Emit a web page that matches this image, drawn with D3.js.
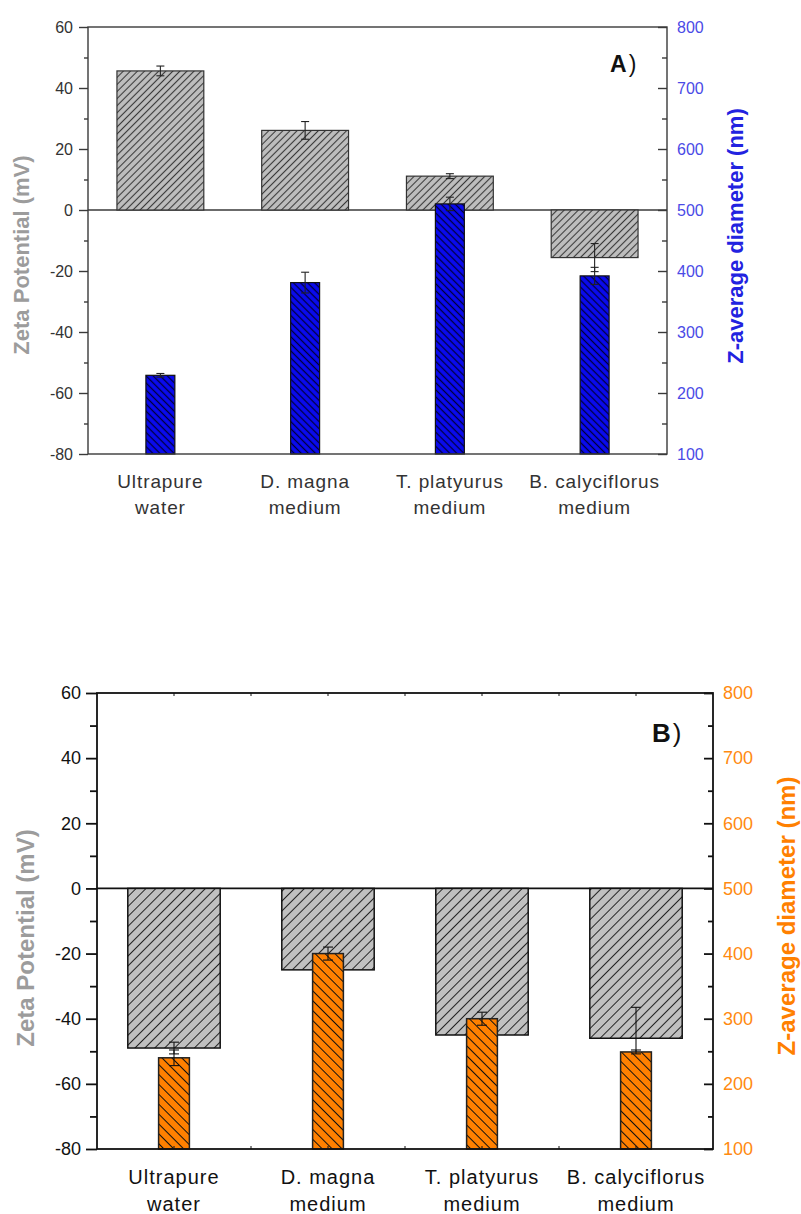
<!DOCTYPE html>
<html>
<head>
<meta charset="utf-8">
<script src="https://cdn.jsdelivr.net/npm/d3@7"></script>
<style>
  body { margin: 0; background: #fff; }
  svg { display: block; }
  text { font-family: "Liberation Sans", Arial, sans-serif; }
</style>
</head>
<body>
<div id="chart"></div>
<script>
// categories (two text lines each)
const categories = [
  ['Ultrapure', 'water'],
  ['D. magna', 'medium'],
  ['T. platyurus', 'medium'],
  ['B. calyciflorus', 'medium']
];

// panel A (blue)
const zetaA = [45.6, 26.1, 11.1, -15.6];
const zetaErrA = [1.6, 2.9, 0.8, 4.6];
const sizeA = [229, 381, 510, 392];
const sizeErrA = [3, 17, 11, 14];

// panel B (orange)
const zetaB = [-49, -25, -45, -46];
const zetaErrB = [1.8, 0, 0, 9.5];
const sizeB = [240, 400, 300, 249];
const sizeErrB = [12, 10, 10, 3];

// axis ticks
const zetaTicks = [-80, -60, -40, -20, 0, 20, 40, 60];
const zetaMinor = [-70, -50, -30, -10, 10, 30, 50];
const sizeTicks = [100, 200, 300, 400, 500, 600, 700, 800];
const sizeMinor = [150, 250, 350, 450, 550, 650, 750];

const svg = d3.select('#chart')
  .append('svg')
  .attr('width', 801)
  .attr('height', 1214);

const defs = svg.append('defs');

function hatch(id, bg, stroke, gap, angle, sw) {
  const p = defs.append('pattern')
    .attr('id', id)
    .attr('patternUnits', 'userSpaceOnUse')
    .attr('width', gap)
    .attr('height', gap)
    .attr('patternTransform', `rotate(${angle})`);
  p.append('rect').attr('width', gap).attr('height', gap).attr('fill', bg);
  p.append('line')
    .attr('x1', gap / 2).attr('y1', -1)
    .attr('x2', gap / 2).attr('y2', gap + 1)
    .attr('stroke', stroke)
    .attr('stroke-width', sw);
}

hatch('grayA', '#bebebe', '#3a3a3a', 5, 45, 1.1);
hatch('blueA', '#0a0af0', '#00003a', 5, -45, 1.3);
hatch('grayB', '#c0c0c0', '#111', 7, 45, 0.9);
hatch('orangeB', '#ff8000', '#111', 7, -45, 1);

function drawPanel(o) {
  const g = svg.append('g');
  const x = d3.scaleBand().domain(d3.range(categories.length)).range([o.left, o.right]);
  const yL = d3.scaleLinear().domain([-80, 60]).range([o.bottom, o.top]);
  const yR = d3.scaleLinear().domain([100, 800]).range([o.bottom, o.top]);
  const cx = i => x(i) + x.bandwidth() / 2;
  const gw = x.bandwidth() * 0.6;
  const cw = x.bandwidth() * 0.2;

  // zero line
  g.append('line')
    .attr('x1', o.left).attr('x2', o.right)
    .attr('y1', yL(0)).attr('y2', yL(0))
    .attr('stroke', o.axisColor).attr('stroke-width', o.axisWidth);

  // zeta bars
  g.selectAll('.zbar')
    .data(o.zeta)
    .enter()
    .append('rect')
    .attr('x', (d, i) => cx(i) - gw / 2)
    .attr('y', d => yL(Math.max(d, 0)))
    .attr('width', gw)
    .attr('height', d => Math.abs(yL(d) - yL(0)))
    .attr('fill', `url(#${o.grayId})`)
    .attr('stroke', o.barStroke)
    .attr('stroke-width', o.barStrokeW);

  function errBars(vals, errs, scale, cap) {
    vals.forEach((v, i) => {
      if (!errs[i]) return;
      const y1 = scale(v - errs[i]);
      const y2 = scale(v + errs[i]);
      const xx = cx(i);
      g.append('line').attr('x1', xx).attr('x2', xx).attr('y1', y1).attr('y2', y2)
        .attr('stroke', o.errColor).attr('stroke-width', 1.1);
      [y1, y2].forEach(yy => {
        g.append('line').attr('x1', xx - cap / 2).attr('x2', xx + cap / 2)
          .attr('y1', yy).attr('y2', yy)
          .attr('stroke', o.errColor).attr('stroke-width', 1.1);
      });
    });
  }
  errBars(o.zeta, o.zetaErr, yL, o.cap);

  // size bars
  g.selectAll('.sbar')
    .data(o.size)
    .enter()
    .append('rect')
    .attr('x', (d, i) => cx(i) - cw / 2)
    .attr('y', d => yR(d))
    .attr('width', cw)
    .attr('height', d => yR(100) - yR(d))
    .attr('fill', `url(#${o.colorId})`)
    .attr('stroke', o.colorStroke)
    .attr('stroke-width', o.barStrokeW);

  errBars(o.size, o.sizeErr, yR, o.cap);

  // frame
  g.append('rect')
    .attr('x', o.left).attr('y', o.top)
    .attr('width', o.right - o.left).attr('height', o.bottom - o.top)
    .attr('fill', 'none')
    .attr('stroke', o.axisColor).attr('stroke-width', o.axisWidth);

  // small category ticks on top / bottom (panel B)
  if (o.catTicks) {
    const pos = [];
    categories.forEach((c, i) => { pos.push(cx(i)); if (i > 0) pos.push(x(i)); });
    pos.forEach(p => {
      g.append('line').attr('x1', p).attr('x2', p).attr('y1', o.top).attr('y2', o.top + 3)
        .attr('stroke', o.axisColor).attr('stroke-width', 1);
      g.append('line').attr('x1', p).attr('x2', p).attr('y1', o.bottom).attr('y2', o.bottom - 3)
        .attr('stroke', o.axisColor).attr('stroke-width', 1);
    });
  }

  const plain = d => String(d);

  // left axis
  const la = g.append('g').attr('transform', `translate(${o.left},0)`)
    .call(d3.axisLeft(yL).tickValues(zetaTicks).tickFormat(plain)
      .tickSizeInner(o.majL).tickSizeOuter(0).tickPadding(o.padL));
  g.append('g').attr('transform', `translate(${o.left},0)`)
    .call(d3.axisLeft(yL).tickValues(zetaMinor).tickSize(o.minL).tickFormat(''));

  // right axis (ticks inward)
  const ra = g.append('g').attr('transform', `translate(${o.right},0)`)
    .call(d3.axisRight(yR).tickValues(sizeTicks).tickFormat(plain)
      .tickSizeInner(-o.majR).tickSizeOuter(0).tickPadding(o.padR));
  g.append('g').attr('transform', `translate(${o.right},0)`)
    .call(d3.axisRight(yR).tickValues(sizeMinor).tickSize(-o.minR).tickFormat(''));

  g.selectAll('.domain').remove();
  g.selectAll('.tick line').attr('stroke', o.axisColor).attr('stroke-width', o.axisWidth);
  la.selectAll('text').attr('font-size', o.tickFont).attr('fill', o.tickColor)
    .attr('font-family', '"Liberation Sans", Arial, sans-serif');
  ra.selectAll('text').attr('font-size', o.tickFont).attr('fill', o.rTickColor)
    .attr('font-family', '"Liberation Sans", Arial, sans-serif');

  // category labels
  categories.forEach((c, i) => {
    const t = g.append('text')
      .attr('text-anchor', 'middle')
      .attr('font-size', o.catFont)
      .attr('letter-spacing', o.catSpacing)
      .attr('fill', o.tickColor);
    c.forEach((line, k) => {
      t.append('tspan').attr('x', cx(i)).attr('y', o.catY + k * o.catGap).text(line);
    });
  });

  // axis titles
  g.append('text')
    .attr('transform', `translate(${o.lTitleX},${o.lTitleY}) rotate(-90)`)
    .attr('text-anchor', 'middle')
    .attr('font-size', o.titleFont)
    .attr('font-weight', 'bold')
    .attr('fill', '#9c9c9c')
    .text('Zeta Potential (mV)');
  g.append('text')
    .attr('transform', `translate(${o.rTitleX},${o.rTitleY}) rotate(-90)`)
    .attr('text-anchor', 'middle')
    .attr('font-size', o.titleFont)
    .attr('font-weight', 'bold')
    .attr('fill', o.rTitleColor)
    .text('Z-average diameter (nm)');

  // panel letter
  const pl = g.append('text')
    .attr('x', o.letterX).attr('y', o.letterY)
    .attr('font-size', o.letterFont)
    .attr('fill', '#111');
  pl.append('tspan').attr('font-weight', 'bold').text(o.letter);
  pl.append('tspan').attr('dx', 2).text(')');
}

drawPanel({
  left: 88, right: 667, top: 27, bottom: 454,
  zeta: zetaA, zetaErr: zetaErrA, size: sizeA, sizeErr: sizeErrA,
  grayId: 'grayA', colorId: 'blueA',
  barStroke: '#333', colorStroke: '#111', barStrokeW: 1.2,
  errColor: '#222', cap: 8,
  axisColor: '#3a3a3a', axisWidth: 1.4,
  majL: 9, minL: 4, padL: 6, majR: 9, minR: 5, padR: 10,
  tickFont: 16, tickColor: '#333', rTickColor: '#4a4ae6',
  catFont: 19, catSpacing: 0.9, catY: 488, catGap: 26,
  titleFont: 22, lTitleX: 29, lTitleY: 255, rTitleX: 743, rTitleY: 236,
  rTitleColor: '#2222e0',
  letter: 'A', letterX: 610, letterY: 72, letterFont: 23,
  catTicks: false
});

drawPanel({
  left: 97, right: 713, top: 693, bottom: 1149,
  zeta: zetaB, zetaErr: zetaErrB, size: sizeB, sizeErr: sizeErrB,
  grayId: 'grayB', colorId: 'orangeB',
  barStroke: '#111', colorStroke: '#222', barStrokeW: 1.5,
  errColor: '#111', cap: 10,
  axisColor: '#111', axisWidth: 1.8,
  majL: 11, minL: 7, padL: 5, majR: 9, minR: 5, padR: 10,
  tickFont: 18, tickColor: '#111', rTickColor: '#ff8a10',
  catFont: 20, catSpacing: 1, catY: 1184, catGap: 27,
  titleFont: 24, lTitleX: 34, lTitleY: 938, rTitleX: 795, rTitleY: 916,
  rTitleColor: '#ff8000',
  letter: 'B', letterX: 652, letterY: 742, letterFont: 26,
  catTicks: true
});
</script>
</body>
</html>
